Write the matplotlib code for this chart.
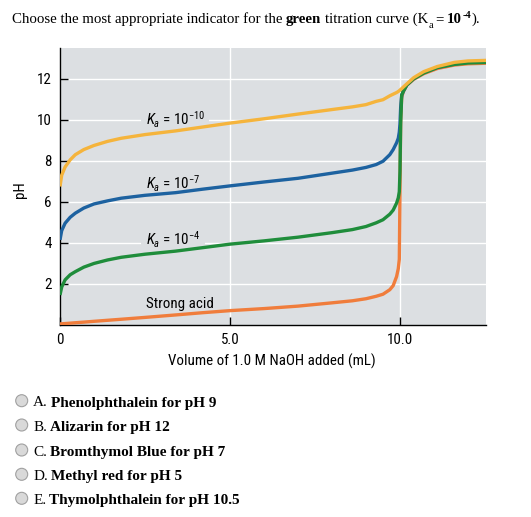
import matplotlib
matplotlib.use("Agg")
import matplotlib.pyplot as plt
from matplotlib import font_manager
from matplotlib.patches import Circle

# volume of 1.0 M NaOH added (mL), shared by all four curves
volume_ml = [0, 0.05, 0.15, 0.3, 0.45, 0.7, 1.0, 1.4, 1.8, 2.5, 3.4, 4.2, 5.0, 6.0,
             7.0, 8.0, 8.6, 9.0, 9.3, 9.5, 9.7, 9.8, 9.9, 9.95, 9.98, 10.0, 10.02,
             10.05, 10.1, 10.2, 10.4, 10.7, 11.1, 11.6, 12.0, 12.6]

# pH for each curve
ph_ka_1e10 = [6.75, 7.3, 7.7, 8.05, 8.3, 8.55, 8.75, 8.95, 9.1, 9.28, 9.46, 9.65, 9.84, 10.05,
              10.28, 10.5, 10.63, 10.74, 10.9, 10.98, 11.17, 11.25, 11.33, 11.38, 11.42, 11.45, 11.48,
              11.52, 11.6, 11.75, 12.05, 12.35, 12.6, 12.8, 12.87, 12.9]
ph_ka_1e7 = [4.15, 4.6, 4.96, 5.25, 5.45, 5.7, 5.9, 6.05, 6.18, 6.32, 6.45, 6.62, 6.78, 6.97,
             7.15, 7.4, 7.55, 7.68, 7.82, 7.98, 8.3, 8.55, 8.88, 9.1, 9.4, 9.8, 10.6,
             11.2, 11.4, 11.7, 12.0, 12.3, 12.55, 12.72, 12.8, 12.83]
ph_ka_1e4 = [1.46, 1.85, 2.2, 2.45, 2.6, 2.82, 3.0, 3.17, 3.3, 3.45, 3.6, 3.77, 3.94, 4.1,
             4.28, 4.5, 4.65, 4.8, 4.98, 5.13, 5.4, 5.6, 5.94, 6.2, 6.5, 7.5, 9.8,
             11.2, 11.4, 11.7, 12.0, 12.28, 12.55, 12.7, 12.77, 12.8]
ph_strong = [0.05, 0.06, 0.07, 0.09, 0.11, 0.14, 0.18, 0.23, 0.28, 0.37, 0.49, 0.6, 0.7, 0.8,
             0.92, 1.08, 1.18, 1.28, 1.4, 1.5, 1.72, 1.92, 2.36, 2.75, 3.2, 6.5, 10.0,
             11.1, 11.38, 11.68, 11.97, 12.25, 12.5, 12.67, 12.73, 12.76]

curve_labels = ["$K_a$ = 10$^{-10}$", "$K_a$ = 10$^{-7}$", "$K_a$ = 10$^{-4}$", "Strong acid"]
x_ticks = [0, 5, 10]
x_tick_labels = ["0", "5.0", "10.0"]
y_ticks = [2, 4, 6, 8, 10, 12]

option_letters = ["A.", "B.", "C.", "D.", "E."]
option_texts = ["Phenolphthalein for pH 9", "Alizarin for pH 12", "Bromthymol Blue for pH 7",
                "Methyl red for pH 5", "Thymolphthalein for pH 10.5"]

# condensed sans for the chart, if one is around
names = {f.name for f in font_manager.fontManager.ttflist}
NARROW = "Liberation Sans"
for cand in ["Liberation Sans Narrow", "Arial Narrow", "Roboto Condensed", "Archivo Narrow",
             "Barlow Semi Condensed"]:
    if cand in names:
        NARROW = cand
        break
SERIF = "Liberation Serif"
plt.rcParams["mathtext.fontset"] = "custom"
plt.rcParams["mathtext.rm"] = NARROW
plt.rcParams["mathtext.it"] = NARROW + ":italic"
plt.rcParams["mathtext.bf"] = NARROW + ":bold"

BG = "#dcdfe2"
FS = 10.8


def write_runs(ax, x, y, runs, size):
    """Write text pieces one after another, each with its own style."""
    first = ax.text(x, y, runs[0][0], fontsize=size, family=SERIF, va="baseline",
                    fontweight=runs[0][1])
    prev = first
    for text, weight, scale, dy, gap in runs[1:]:
        prev = ax.annotate(text, xy=(1, 0), xycoords=(prev, first), xytext=(gap, dy),
                           textcoords="offset points", fontsize=size * scale,
                           fontweight=weight, family=SERIF, va="bottom", ha="left")
    return first


fig = plt.figure(figsize=(5.31, 5.17), dpi=100)

ax = fig.add_axes([60 / 531, 1 - 325 / 517, 426 / 531, 277 / 517])
ax.set_facecolor(BG)
ax.set_axisbelow(True)

series = [(ph_strong, "#f07d3c"), (ph_ka_1e7, "#1d62a0"), (ph_ka_1e4, "#1f8d3b"),
          (ph_ka_1e10, "#f5b43c")]
for values, color in series:
    ax.plot(volume_ml, values, color=color, lw=2.4, zorder=4, solid_capstyle="butt")

label_ph = [10.0, 6.9, 4.15, 1.02]
for text, y in zip(curve_labels, label_ph):
    ax.text(2.52, y, text, family=NARROW, fontsize=FS, va="center", ha="left", zorder=3,
            bbox=dict(boxstyle="square,pad=0.3", fc=BG, ec="none"))

ax.set_xlim(0, 12.53)
ax.set_ylim(0, 13.5)
ax.set_xticks(x_ticks)
ax.set_xticklabels(x_tick_labels)
ax.set_yticks(y_ticks)
ax.grid(True, color="white", lw=1)
for side in ["top", "right"]:
    ax.spines[side].set_visible(False)
for side in ["left", "bottom"]:
    ax.spines[side].set_color("black")
    ax.spines[side].set_linewidth(1)
ax.tick_params(direction="in", length=6, width=1, colors="black", labelsize=FS)
ax.tick_params(axis="x", pad=6)
ax.tick_params(axis="y", pad=6)
for lab in ax.get_xticklabels() + ax.get_yticklabels():
    lab.set_family(NARROW)
ax.set_xlabel("Volume of 1.0 M NaOH added (mL)", family=NARROW, fontsize=FS)
ax.set_ylabel("pH", family=NARROW, fontsize=FS)
ax.xaxis.set_label_coords(0.497, -0.105)
ax.yaxis.set_label_coords(-0.078, 0.487)

# overlay in pixel units for the question text
ov = fig.add_axes([0, 0, 1, 1])
ov.set_xlim(0, 531)
ov.set_ylim(517, 0)
ov.axis("off")

write_runs(ov, 11.7, 23.3, [
    ("Choose the most appropriate indicator for the", "normal"),
    ("green", "bold", 1, 0, 2.7),
    ("titration curve (K", "normal", 1, 0, 2.7),
    ("a", "normal", 0.7, -2.5, 0.2),
    ("=", "normal", 1, 0, 1.5),
    ("10", "bold", 1, 0, 2.4),
    ("-4", "bold", 0.7, 4.5, 0.2),
    (").", "normal", 1, 0, 0.2),
], 10.7)

option_y = [400.7, 425, 450, 474.3, 498.3]
for letter, text, y in zip(option_letters, option_texts, option_y):
    ov.add_patch(Circle((21.7, y), 6, fc="#d9d9d9", ec="#a0a0a0", lw=0.8))
    write_runs(ov, 33.3, y + 5.8, [(letter, "normal"), (text, "bold", 1, 0, 1.8)], 11)

fig.savefig("out.png", dpi=100)
